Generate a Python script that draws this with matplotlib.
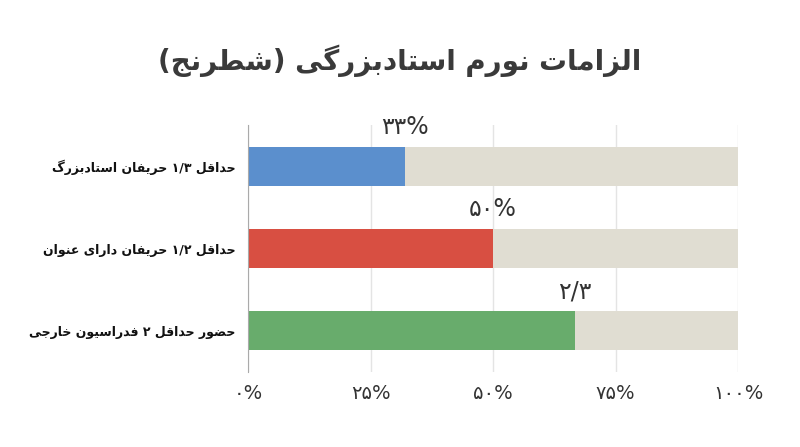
import matplotlib
matplotlib.use("Agg")
import matplotlib.pyplot as plt

# Chart data
title = "الزامات نورم استادبزرگی (شطرنج)"
categories = [
    "حداقل ۱/۳ حریفان استادبزرگ",
    "حداقل ۱/۲ حریفان دارای عنوان",
    "حضور حداقل ۲ فدراسیون خارجی",
]
values = [32, 50, 66.7]
value_labels = ["۳۳%", "۵۰%", "۲/۳"]
tick_values = [0, 25, 50, 75, 100]
tick_labels = ["۰%", "۲۵%", "۵۰%", "۷۵%", "۱۰۰%"]
bar_colors = ["#5b8fcd", "#d84f42", "#68ac6c"]
track_color = "#e0ddd2"

# Arabic presentation forms: (isolated, final[, initial, medial])
FORMS = {
    "ا": ("\uFE8D", "\uFE8E"),
    "د": ("\uFEA9", "\uFEAA"),
    "ذ": ("\uFEAB", "\uFEAC"),
    "ر": ("\uFEAD", "\uFEAE"),
    "ز": ("\uFEAF", "\uFEB0"),
    "و": ("\uFEED", "\uFEEE"),
    "ب": ("\uFE8F", "\uFE90", "\uFE91", "\uFE92"),
    "ت": ("\uFE95", "\uFE96", "\uFE97", "\uFE98"),
    "ج": ("\uFE9D", "\uFE9E", "\uFE9F", "\uFEA0"),
    "ح": ("\uFEA1", "\uFEA2", "\uFEA3", "\uFEA4"),
    "خ": ("\uFEA5", "\uFEA6", "\uFEA7", "\uFEA8"),
    "س": ("\uFEB1", "\uFEB2", "\uFEB3", "\uFEB4"),
    "ش": ("\uFEB5", "\uFEB6", "\uFEB7", "\uFEB8"),
    "ض": ("\uFEBD", "\uFEBE", "\uFEBF", "\uFEC0"),
    "ط": ("\uFEC1", "\uFEC2", "\uFEC3", "\uFEC4"),
    "ع": ("\uFEC9", "\uFECA", "\uFECB", "\uFECC"),
    "ف": ("\uFED1", "\uFED2", "\uFED3", "\uFED4"),
    "ق": ("\uFED5", "\uFED6", "\uFED7", "\uFED8"),
    "ل": ("\uFEDD", "\uFEDE", "\uFEDF", "\uFEE0"),
    "م": ("\uFEE1", "\uFEE2", "\uFEE3", "\uFEE4"),
    "ن": ("\uFEE5", "\uFEE6", "\uFEE7", "\uFEE8"),
    "ه": ("\uFEE9", "\uFEEA", "\uFEEB", "\uFEEC"),
    "ی": ("\uFBFC", "\uFBFD", "\uFBFE", "\uFBFF"),
    "گ": ("\uFB92", "\uFB93", "\uFB94", "\uFB95"),
}


def shape_word(word):
    # pick the contextual form of each letter
    out = []
    for i, ch in enumerate(word):
        forms = FORMS.get(ch)
        if forms is None:
            out.append(ch)
            continue
        prev = word[i - 1] if i > 0 else ""
        nxt = word[i + 1] if i < len(word) - 1 else ""
        joins_prev = prev in FORMS and len(FORMS[prev]) == 4
        joins_next = len(forms) == 4 and nxt in FORMS
        if joins_prev and joins_next:
            out.append(forms[3])
        elif joins_prev:
            out.append(forms[1])
        elif joins_next:
            out.append(forms[2])
        else:
            out.append(forms[0])
    return "".join(out)


def rtl(text):
    # visual order for a right-to-left line, numbers stay left-to-right
    visual = []
    for w in reversed(text.split(" ")):
        if any(c in FORMS for c in w):
            visual.append(shape_word(w)[::-1].translate(str.maketrans("()", ")(")))
        else:
            visual.append(w)
    return " ".join(visual)


plt.rcParams["font.family"] = ["DejaVu Sans"]

fig = plt.figure(figsize=(8, 4.47), dpi=100)
ax = fig.add_axes([0.31, 0.168, 0.6125, 0.552])

y = list(range(len(categories)))
ax.barh(y, [100] * len(y), height=0.47, color=track_color, zorder=2)
ax.barh(y, values, height=0.47, color=bar_colors, zorder=3)

for yi, v, lab in zip(y, values, value_labels):
    ax.annotate(lab, (v, yi - 0.235), xytext=(0, 6), textcoords="offset points",
                ha="center", va="bottom", fontsize=17, color="#333333")

ax.set_xlim(0, 100)
ax.set_ylim(2.5, -0.5)
ax.set_xticks(tick_values)
ax.set_xticklabels(tick_labels, fontsize=14, color="#333333")
ax.set_yticks(y)
ax.set_yticklabels([rtl(c) for c in categories], fontsize=9,
                   fontweight="bold", color="#111111")
ax.tick_params(axis="both", length=0)
ax.tick_params(axis="x", pad=9)
ax.tick_params(axis="y", pad=9)
ax.grid(axis="x", color="#e4e4e4", linewidth=1, zorder=0)

for side in ["top", "right", "bottom"]:
    ax.spines[side].set_visible(False)
ax.spines["left"].set_color("#aaaaaa")
ax.spines["left"].set_zorder(4)

fig.text(0.5, 0.865, rtl(title), ha="center", va="center", fontsize=20,
         fontweight="bold", color="#3a3a3a")

fig.savefig("out.png", dpi=100)
